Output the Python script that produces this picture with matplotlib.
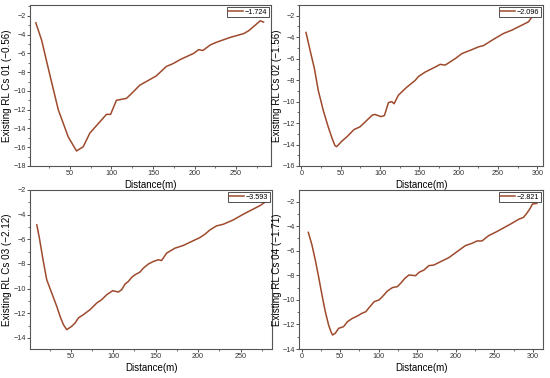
import matplotlib
matplotlib.use('Agg')
import matplotlib.pyplot as plt
from matplotlib.ticker import MultipleLocator

plt.rcParams['font.family'] = ['Liberation Sans', 'DejaVu Sans']

# Cs 01
x1 = [9, 16, 24, 36, 48, 58, 66, 74, 84, 90, 94, 99, 106, 112, 118, 124, 134, 146, 154,
      166, 174, 183, 199, 205, 210, 219, 227, 243, 259, 265, 273, 279, 283]
y1 = [-2.75, -4.6, -7.6, -12.0, -14.9, -16.4, -15.95, -14.5, -13.5, -12.9, -12.5, -12.5,
      -11.0, -10.9, -10.8, -10.3, -9.4, -8.8, -8.4, -7.4, -7.1, -6.65, -6.0, -5.6, -5.7,
      -5.1, -4.8, -4.3, -3.9, -3.6, -3.0, -2.53, -2.67]

# Cs 02
x2 = [5.9, 11, 16.5, 21.5, 27.9, 34.3, 39.4, 42.7, 44.9, 51.2, 57.6, 67, 74.5, 81, 90.2,
      93.6, 101, 105.5, 110.6, 114.8, 117.8, 123.3, 133.9, 144.5, 148.8, 157.3, 170, 176.4,
      182.7, 195.4, 203.9, 216.6, 225.1, 231.4, 246.3, 256.9, 267.5, 276, 282.3, 288.7,
      292.9, 297, 301.3]
y2 = [-3.56, -5.2, -6.9, -8.97, -10.84, -12.4, -13.5, -14.1, -14.2, -13.7, -13.3, -12.6,
      -12.35, -11.9, -11.25, -11.2, -11.4, -11.3, -10.1, -10.0, -10.2, -9.4, -8.66, -8.03,
      -7.66, -7.25, -6.78, -6.53, -6.6, -6.0, -5.53, -5.16, -4.9, -4.78, -4.1, -3.65, -3.34,
      -3.03, -2.8, -2.56, -2.1, -1.94, -2.0]

# Cs 03
x3 = [10, 13.1, 17, 21.7, 27.6, 33.5, 37.4, 41.3, 45.3, 51.1, 55.1, 59, 64.9, 72.7, 80.6,
      86.4, 92.3, 99.4, 106, 110, 113.9, 117.8, 121.7, 125.6, 131.5, 135.5, 141.3, 147.2,
      153.1, 157, 162.9, 172.7, 182.5, 192.3, 202.1, 208, 213.9, 221.7, 229.6, 241.3,
      253.1, 262.9, 272.7, 278.6, 284.5]
y3 = [-4.83, -5.91, -7.53, -9.28, -10.36, -11.44, -12.25, -12.92, -13.33, -13.06, -12.79,
      -12.38, -12.11, -11.71, -11.17, -10.9, -10.5, -10.17, -10.28, -10.09, -9.63, -9.42,
      -9.09, -8.88, -8.66, -8.34, -8.01, -7.8, -7.66, -7.72, -7.12, -6.72, -6.5, -6.18,
      -5.86, -5.59, -5.24, -4.91, -4.78, -4.43, -3.97, -3.62, -3.27, -3.0, -2.92]

# Cs 04
x4 = [8.7, 13.4, 17.7, 22, 26.4, 30.7, 35, 38, 40.1, 43.6, 47.9, 54.4, 59.5, 66, 72.4, 78,
      83.2, 87.5, 94, 100.4, 104.7, 111.2, 117.7, 124.1, 128.4, 134, 139.2, 147.8, 152.1,
      158.6, 165, 171.5, 180.1, 190.9, 201.6, 212.4, 221, 227.5, 233.9, 242.5, 251.2,
      264.1, 272.7, 281.3, 287.7, 292, 296.4, 299.4, 305]
y4 = [-4.5, -5.53, -6.75, -8.11, -9.6, -10.96, -12.05, -12.59, -12.86, -12.72, -12.32,
      -12.18, -11.77, -11.5, -11.31, -11.1, -10.96, -10.63, -10.15, -10.0, -9.74, -9.28,
      -9.0, -8.92, -8.65, -8.24, -7.97, -8.03, -7.76, -7.57, -7.21, -7.16, -6.89, -6.56,
      -6.07, -5.58, -5.39, -5.2, -5.2, -4.77, -4.5, -4.06, -3.76, -3.44, -3.28, -2.95,
      -2.54, -2.19, -2.14]

legend_vals = ['\u22121.724', '\u22122.096', '\u22123.593', '\u22122.821']
ylabels = ['Existing RL Cs 01 (\u22120.56)', 'Existing RL Cs 02 (\u22121.56)',
           'Existing RL Cs 03 (\u22122.12)', 'Existing RL Cs 04 (\u22121.71)']

line_color = '#9e4a2c'
spine_color = '#555555'

W, H = 550, 378
fig = plt.figure(figsize=(5.5, 3.78), dpi=100)

# axes boxes in pixels: left, right, top, bottom
boxes = [(30, 271, 5, 166), (299, 543, 5, 166), (30, 272, 190, 349), (299, 543, 190, 349)]
xlims = [(2, 292), (-3, 307), (2, 287), (-3.4, 313)]
ylims = [(-18, -0.85), (-16, -1.0), (-14.9, -2), (-14, -1.05)]
label_right = [12, 282, 12, 282]   # pixel x of the y label's right edge
data = [(x1, y1), (x2, y2), (x3, y3), (x4, y4)]

for i in range(4):
    l, r, t, b = boxes[i]
    ax = fig.add_axes([l / W, 1 - b / H, (r - l) / W, (b - t) / H])
    xs, ys = data[i]
    ax.plot(xs, ys, color=line_color, lw=1.1, label=legend_vals[i])
    ax.set_xlim(*xlims[i])
    ax.set_ylim(*ylims[i])
    ax.xaxis.set_major_locator(MultipleLocator(50))
    ax.xaxis.set_minor_locator(MultipleLocator(25))
    ax.yaxis.set_major_locator(MultipleLocator(2))
    ax.yaxis.set_minor_locator(MultipleLocator(1))
    ax.tick_params(which='major', length=2.0, width=0.6, labelsize=5.2, pad=0.6,
                   colors='#333333', direction='out')
    ax.tick_params(axis='x', which='major', pad=1.2)
    ax.tick_params(which='minor', length=1.2, width=0.5, colors='#333333')
    for s in ax.spines.values():
        s.set_color(spine_color)
        s.set_linewidth(0.8)
    ax.set_xlabel('Distance(m)', fontsize=7, labelpad=2)
    ax.set_ylabel(ylabels[i], fontsize=7.1)
    ax.yaxis.set_label_coords((label_right[i] - l) / (r - l), 0.5)
    leg = ax.legend(loc='upper right', fontsize=5.2, handlelength=2.0, handletextpad=0.3,
                    borderpad=0.2, borderaxespad=0.3, fancybox=False, framealpha=1)
    leg.get_frame().set_edgecolor('#333333')
    leg.get_frame().set_linewidth(0.6)

fig.savefig('out.png', dpi=100)
